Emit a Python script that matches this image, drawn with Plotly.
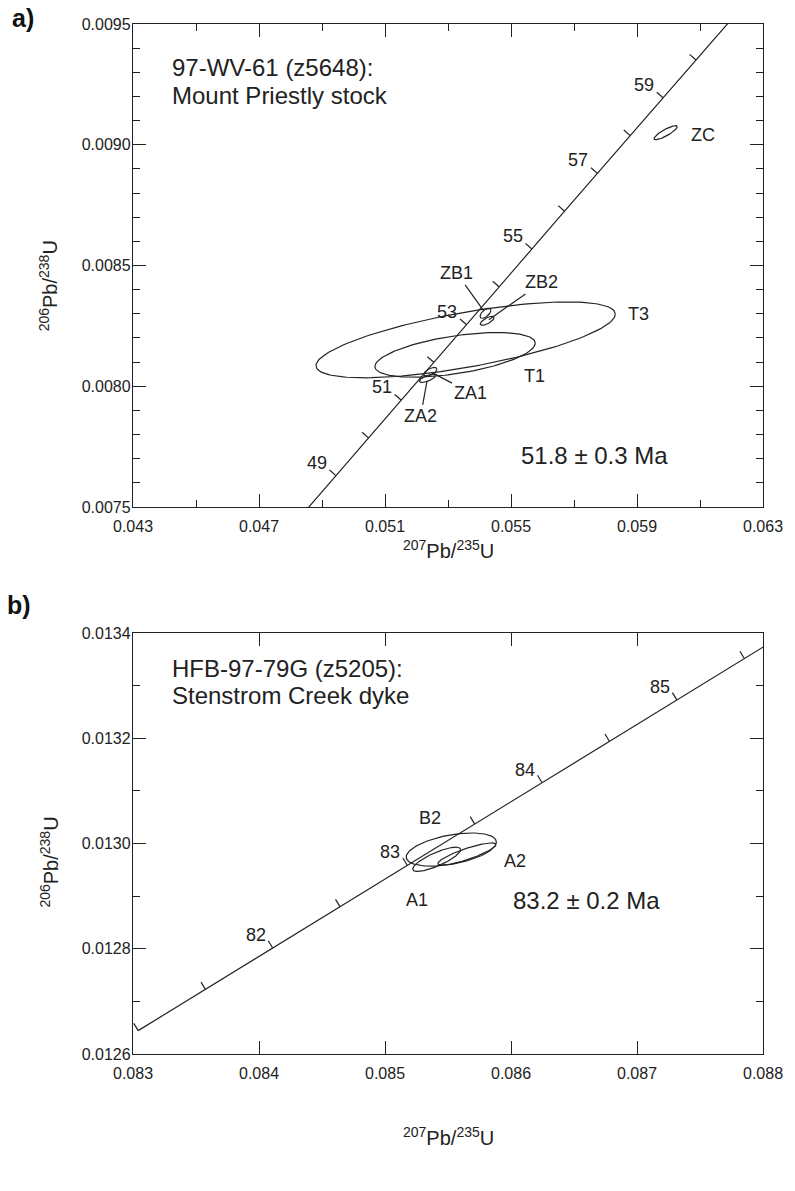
import numpy as np
import plotly.graph_objects as go

# ---------------- DATA ----------------
# Panel a: concordia ages (Ma) and ratios
conc_a_age = [48, 49, 50, 51, 52, 53, 54, 55, 56, 57, 58, 59, 60, 61, 62]
conc_a_x = [0.0484080, 0.0494408, 0.0504750, 0.0515101, 0.0525462, 0.0535834, 0.0546215,
            0.0556606, 0.0567009, 0.0577420, 0.0587842, 0.0598275, 0.0608719, 0.0619171, 0.0629634]
conc_a_y = [0.0074737, 0.0076300, 0.0077863, 0.0079428, 0.0080991, 0.0082555, 0.0084119,
            0.0085684, 0.0087248, 0.0088813, 0.0090378, 0.0091944, 0.0093510, 0.0095075, 0.0096641]
conc_a_labeled = [49, 51, 53, 55, 57, 59]

# Panel a: error ellipses (centre, half-widths, correlation)
ell_a_name = ["ZC", "T3", "T1", "ZB1", "ZB2", "ZA1", "ZA2"]
ell_a_cx = [0.05991, 0.05356, 0.053225, 0.05419, 0.054244, 0.05244, 0.05235]
ell_a_cy = [0.009050, 0.008192, 0.008130, 0.008302, 0.008271, 0.008060, 0.008033]
ell_a_sx = [0.00037, 0.00475, 0.002545, 0.000173, 0.00022, 0.00021, 0.00026]
ell_a_sy = [0.000029, 0.000157, 0.0000925, 0.0000207, 0.0000186, 0.000018, 0.0000172]
ell_a_rho = [0.85, 0.68, 0.52, 0.6, 0.7, 0.6, 0.7]

# Panel b: concordia ages (Ma) and ratios
conc_b_age = [81.0, 81.5, 82.0, 82.5, 83.0, 83.5, 84.0, 84.5, 85.0, 85.5, 86.0]
conc_b_x = [0.0830410, 0.0835745, 0.0841082, 0.0846423, 0.0851764, 0.0857110,
            0.0862456, 0.0867807, 0.0873160, 0.0878516, 0.0883877]
conc_b_y = [0.0126444, 0.0127229, 0.0128015, 0.0128801, 0.0129586, 0.0130372,
            0.0131158, 0.0131943, 0.0132729, 0.0133515, 0.0134301]
conc_b_labeled = [82, 83, 84, 85]

# Panel b: error ellipses
ell_b_name = ["B2", "A1", "A2"]
ell_b_cx = [0.085526, 0.08541, 0.08565]
ell_b_cy = [0.0129885, 0.012970, 0.012980]
ell_b_sx = [0.000358, 0.00019, 0.00023]
ell_b_sy = [0.0000315, 0.000023, 0.000021]
ell_b_rho = [0.45, 0.8, 0.85]

# Axis settings
xa_range = [0.043, 0.063]
ya_range = [0.0075, 0.0095]
xb_range = [0.083, 0.088]
yb_range = [0.0126, 0.0134]

# ---------------- LAYOUT CONSTANTS ----------------
W, H = 795, 1191
ML, MR, MT, MB = 133, 27, 24, 137
PW, PH = W - ML - MR, H - MT - MB
dom_a = [1 - 483 / PH, 1.0]
dom_b = [0.0, 421 / PH]
INK = "#222222"
FONT = "Liberation Sans, Arial, Helvetica, sans-serif"


def scales(xr, yr, dom):
    kx = PW / (xr[1] - xr[0])
    ky = PH * (dom[1] - dom[0]) / (yr[1] - yr[0])
    return kx, ky


def ellipse(cx, cy, sx, sy, rho, n=160):
    t = np.linspace(0, 2 * np.pi, n)
    x = cx + sx * np.cos(t)
    y = cy + sy * (rho * np.cos(t) + np.sqrt(1 - rho ** 2) * np.sin(t))
    return x, y


def conc_ticks(xs, ys, kx, ky, xr, yr, L=8.5):
    xs, ys = np.array(xs), np.array(ys)
    tx_all, ty_all = [], []
    for i in range(len(xs)):
        if not (xr[0] <= xs[i] <= xr[1] and yr[0] <= ys[i] <= yr[1]):
            continue
        j0, j1 = max(i - 1, 0), min(i + 1, len(xs) - 1)
        dx = (xs[j1] - xs[j0]) * kx
        dy = (ys[j1] - ys[j0]) * ky
        n = np.hypot(dx, dy)
        tx, ty = dx / n, dy / n
        nx, ny = -ty, tx
        tx_all += [xs[i], xs[i] + L * nx / kx, None]
        ty_all += [ys[i], ys[i] + L * ny / ky, None]
    return tx_all, ty_all


fig = go.Figure()
line_style = dict(color=INK, width=1.2)

# ---- panel a ----
kxa, kya = scales(xa_range, ya_range, dom_a)
fig.add_trace(go.Scatter(x=conc_a_x, y=conc_a_y, mode="lines", line=line_style,
                         xaxis="x", yaxis="y", hoverinfo="skip", showlegend=False))
tx, ty = conc_ticks(conc_a_x, conc_a_y, kxa, kya, xa_range, ya_range)
fig.add_trace(go.Scatter(x=tx, y=ty, mode="lines", line=line_style,
                         xaxis="x", yaxis="y", hoverinfo="skip", showlegend=False))
for i in range(len(ell_a_name)):
    ex, ey = ellipse(ell_a_cx[i], ell_a_cy[i], ell_a_sx[i], ell_a_sy[i], ell_a_rho[i])
    fig.add_trace(go.Scatter(x=ex, y=ey, mode="lines", line=line_style,
                             xaxis="x", yaxis="y", hoverinfo="skip", showlegend=False))

# ---- panel b ----
kxb, kyb = scales(xb_range, yb_range, dom_b)
fig.add_trace(go.Scatter(x=conc_b_x, y=conc_b_y, mode="lines", line=line_style,
                         xaxis="x2", yaxis="y2", hoverinfo="skip", showlegend=False))
tx, ty = conc_ticks(conc_b_x, conc_b_y, kxb, kyb, xb_range, yb_range)
fig.add_trace(go.Scatter(x=tx, y=ty, mode="lines", line=line_style,
                         xaxis="x2", yaxis="y2", hoverinfo="skip", showlegend=False))
for i in range(len(ell_b_name)):
    ex, ey = ellipse(ell_b_cx[i], ell_b_cy[i], ell_b_sx[i], ell_b_sy[i], ell_b_rho[i])
    fig.add_trace(go.Scatter(x=ex, y=ey, mode="lines", line=line_style,
                             xaxis="x2", yaxis="y2", hoverinfo="skip", showlegend=False))

ann = []
# concordia age labels
cfont = dict(size=18, color=INK, family=FONT)
for age, x, y in zip(conc_a_age, conc_a_x, conc_a_y):
    if age in conc_a_labeled:
        ann.append(dict(x=x, y=y, xref="x", yref="y", text=str(age), showarrow=False,
                        xshift=-19, yshift=13, font=cfont))
for age, x, y in zip(conc_b_age, conc_b_x, conc_b_y):
    if age in conc_b_labeled:
        ann.append(dict(x=x, y=y, xref="x2", yref="y2", text=str(int(age)), showarrow=False,
                        xshift=-17, yshift=13, font=cfont))

lab_font = dict(size=18, color=INK, family=FONT)
# ellipse labels panel a (plain)
plain_a = {"ZC": (0.06108, 0.009041), "T3": (0.05904, 0.00830), "T1": (0.05574, 0.008042)}
for k, (x, y) in plain_a.items():
    ann.append(dict(x=x, y=y, xref="x", yref="y", text=k, showarrow=False, font=lab_font))
# ellipse labels panel a with leader lines
leader_a = {"ZB1": (0.05328, 0.008467, 3), "ZB2": (0.05598, 0.008430, 2),
            "ZA1": (0.05370, 0.007974, 3), "ZA2": (0.05213, 0.007875, 3)}
for k, (lx, ly, so) in leader_a.items():
    i = ell_a_name.index(k)
    ann.append(dict(x=ell_a_cx[i], y=ell_a_cy[i], xref="x", yref="y", ax=lx, ay=ly,
                    axref="x", ayref="y", text=k, showarrow=True, arrowhead=0,
                    arrowwidth=1.2, arrowcolor=INK, standoff=so, font=lab_font))
# ellipse labels panel b
plain_b = {"B2": (0.085360, 0.013048), "A2": (0.086030, 0.012967), "A1": (0.085251, 0.012893)}
for k, (x, y) in plain_b.items():
    ann.append(dict(x=x, y=y, xref="x2", yref="y2", text=k, showarrow=False, font=lab_font))

big = dict(size=24, color=INK, family=FONT)
ann += [
    dict(x=0.04416, y=0.009318, xref="x", yref="y", text="97-WV-61 (z5648):",
         xanchor="left", yanchor="middle", showarrow=False, font=big),
    dict(x=0.04416, y=0.009202, xref="x", yref="y", text="Mount Priestly stock",
         xanchor="left", yanchor="middle", showarrow=False, font=big),
    dict(x=0.05765, y=0.007712, xref="x", yref="y", text="51.8 \u00b1 0.3 Ma",
         xanchor="center", yanchor="middle", showarrow=False, font=big),
    dict(x=0.083290, y=0.013333, xref="x2", yref="y2", text="HFB-97-79G (z5205):",
         xanchor="left", yanchor="middle", showarrow=False, font=big),
    dict(x=0.083290, y=0.013282, xref="x2", yref="y2", text="Stenstrom Creek dyke",
         xanchor="left", yanchor="middle", showarrow=False, font=big),
    dict(x=0.086603, y=0.012891, xref="x2", yref="y2", text="83.2 \u00b1 0.2 Ma",
         xanchor="center", yanchor="middle", showarrow=False, font=big),
]

# axis titles and panel letters
tfont = dict(size=20, color=INK, family=FONT)
ytitle = "<sup>206</sup>Pb/<sup>238</sup>U"
xtitle = "<sup>207</sup>Pb/<sup>235</sup>U"
ann += [
    dict(x=-0.134, y=0.458, xref="x domain", yref="y domain", text=ytitle, textangle=-90,
         xanchor="center", yanchor="middle", showarrow=False, font=tfont),
    dict(x=0.5, y=-0.088, xref="x domain", yref="y domain", text=xtitle,
         xanchor="center", yanchor="middle", showarrow=False, font=tfont),
    dict(x=-0.134, y=0.456, xref="x2 domain", yref="y2 domain", text=ytitle, textangle=-90,
         xanchor="center", yanchor="middle", showarrow=False, font=tfont),
    dict(x=0.5, y=-0.197, xref="x2 domain", yref="y2 domain", text=xtitle,
         xanchor="center", yanchor="middle", showarrow=False, font=tfont),
    dict(x=(22 - ML) / PW, y=(H - MB - 18) / PH, xref="paper", yref="paper", text="<b>a)</b>",
         xanchor="center", yanchor="middle", showarrow=False,
         font=dict(size=25, color="#111", family=FONT)),
    dict(x=(18 - ML) / PW, y=(H - MB - 605) / PH, xref="paper", yref="paper", text="<b>b)</b>",
         xanchor="center", yanchor="middle", showarrow=False,
         font=dict(size=25, color="#111", family=FONT)),
]


def axis(rng, dom, anchor, dtick, fmt, minor_dtick=None, standoff=5):
    d = dict(range=rng, domain=dom, anchor=anchor, tickmode="linear", tick0=rng[0],
             dtick=dtick, ticks="inside", ticklen=13, tickwidth=1.2, tickcolor=INK,
             showline=True, linecolor=INK, linewidth=1.3, mirror="ticks",
             showgrid=False, zeroline=False, tickformat=fmt, ticklabelstandoff=standoff,
             tickfont=dict(size=16, color=INK, family=FONT), fixedrange=True)
    if minor_dtick:
        d["minor"] = dict(ticks="inside", ticklen=7, tickwidth=1.2, tickcolor=INK,
                          tick0=rng[0], dtick=minor_dtick, showgrid=False)
    return d


fig.update_layout(
    width=W, height=H, margin=dict(l=ML, r=MR, t=MT, b=MB),
    paper_bgcolor="white", plot_bgcolor="white", showlegend=False,
    font=dict(family=FONT, color=INK),
    xaxis=axis(xa_range, [0, 1], "y", 0.004, ".3f", 0.002),
    yaxis=axis(ya_range, dom_a, "x", 0.0005, ".4f", 0.0001, standoff=-2),
    xaxis2=axis(xb_range, [0, 1], "y2", 0.001, ".3f"),
    yaxis2=axis(yb_range, dom_b, "x2", 0.0002, ".4f", 0.0001, standoff=-2),
    annotations=ann,
)

fig.write_html("out.html", config={"displayModeBar": False},
               post_script="document.body.style.margin='0';")
